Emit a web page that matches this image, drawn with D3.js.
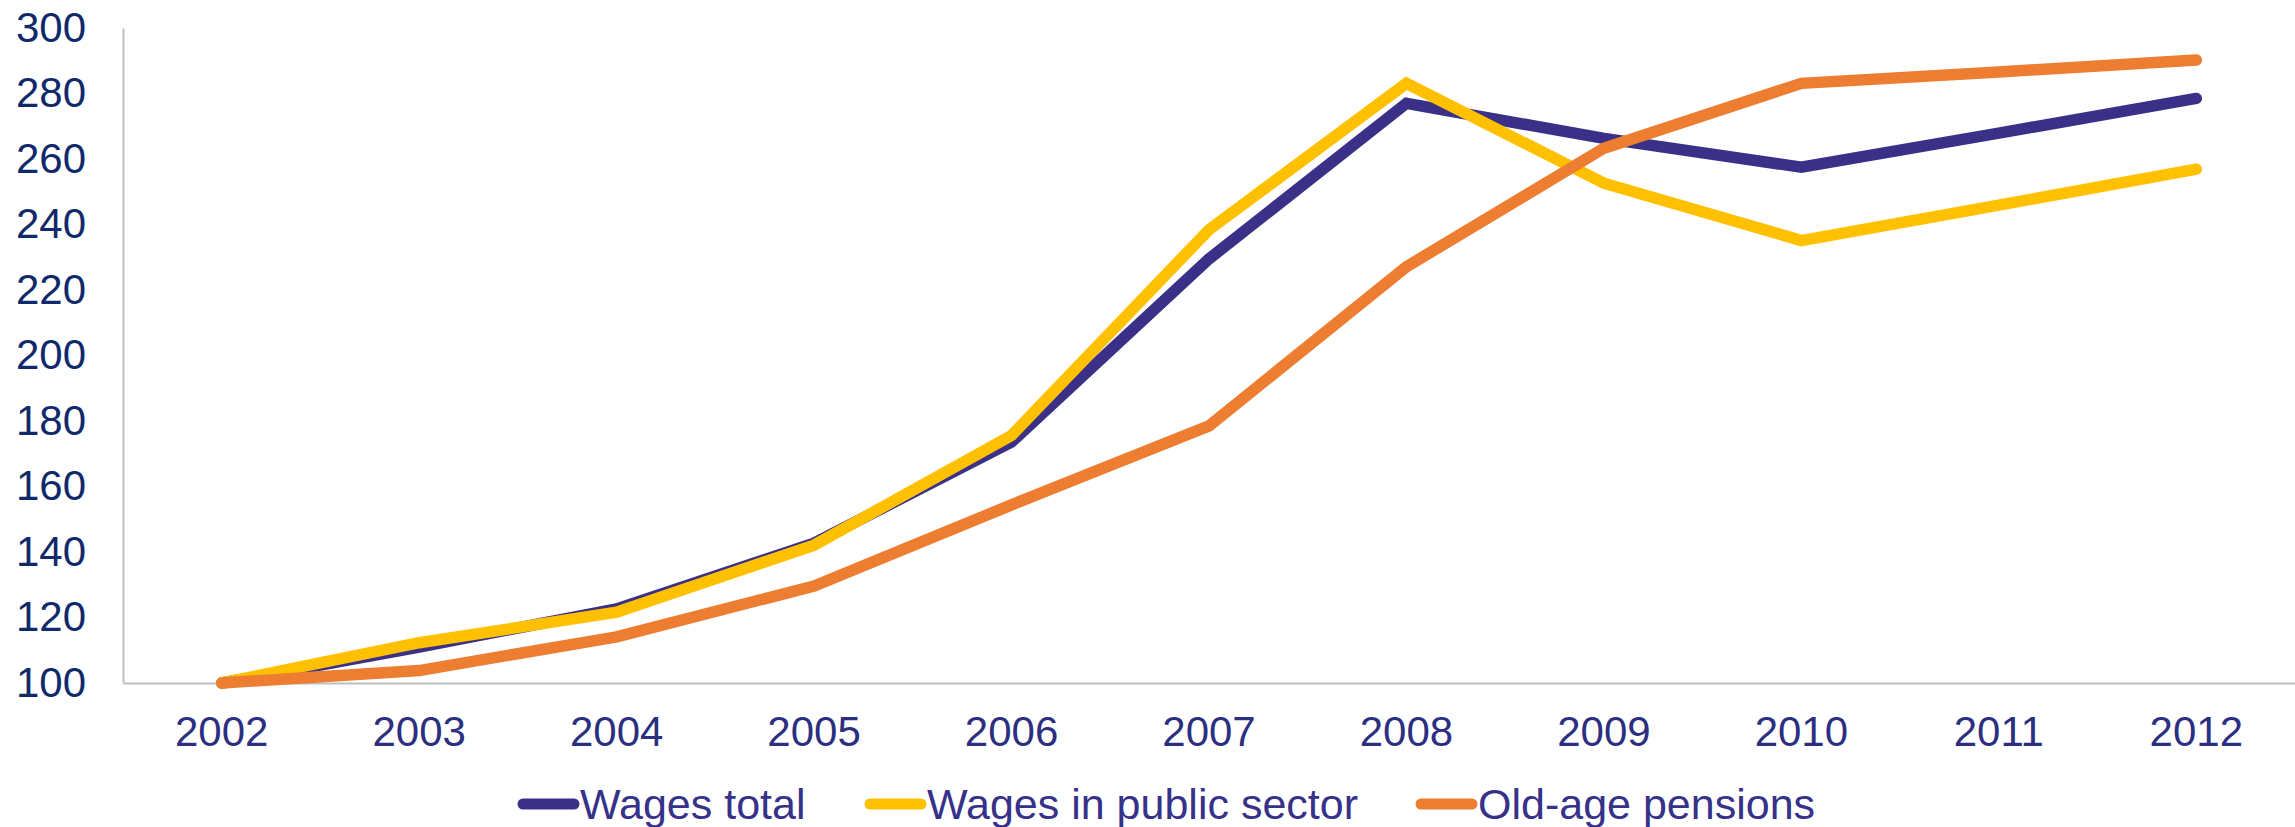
<!DOCTYPE html>
<html lang="en">
  <head>
    <meta charset="UTF-8" />
    <title>Wages and pensions</title>
    <script src="https://cdnjs.cloudflare.com/ajax/libs/d3/7.8.5/d3.min.js"></script>
    <style>
      html,
      body {
        margin: 0;
        background: #fff;
        font-family: "Liberation Sans", Arial, sans-serif;
      }
    </style>
  </head>
  <body>
    <div id="chart"></div>
    <script>
      const years = ["2002", "2003", "2004", "2005", "2006", "2007", "2008", "2009", "2010", "2011", "2012"];
      const wagesTotal = [100, 111, 122.6, 142.7, 173.6, 229.5, 277, 266.3, 257.5, 267.9, 278.5];
      const wagesPublic = [100, 112.3, 121.6, 142.1, 175.6, 238.4, 283.1, 252.6, 235.1, 245.9, 256.9];
      const pensions = [100, 103.8, 114.1, 129.6, 154.4, 178.5, 227.1, 263.3, 283.1, 286.6, 290.2];
      const yTicks = [100, 120, 140, 160, 180, 200, 220, 240, 260, 280, 300];

      const series = [
        { name: "Wages total", values: wagesTotal, color: "#3a3087" },
        { name: "Wages in public sector", values: wagesPublic, color: "#ffc000" },
        { name: "Old-age pensions", values: pensions, color: "#ed7d31" },
      ];

      const W = 2295,
        H = 827,
        margin = { top: 28, right: 0, bottom: 144, left: 123 };

      const x = d3
        .scaleBand()
        .domain(years)
        .range([margin.left, W - margin.right]);
      const y = d3
        .scaleLinear()
        .domain([100, 300])
        .range([H - margin.bottom, margin.top]);

      const svg = d3
        .select("#chart")
        .append("svg")
        .attr("width", W)
        .attr("height", H);

      // y axis
      const yAxis = svg
        .append("g")
        .attr("transform", `translate(${margin.left},0)`)
        .call(d3.axisLeft(y).tickValues(yTicks).tickSize(0).tickPadding(37));
      yAxis.select(".domain").attr("stroke", "#bfbfbf").attr("stroke-width", 2);
      yAxis
        .selectAll("text")
        .attr("fill", "#10296b")
        .attr("font-size", "42px")
        .attr("font-family", "'Liberation Sans', Arial, sans-serif");

      // x axis
      const xAxis = svg
        .append("g")
        .attr("transform", `translate(0,${y(100)})`)
        .call(d3.axisBottom(x).tickSize(0).tickPadding(33));
      xAxis.select(".domain").attr("stroke", "#bfbfbf").attr("stroke-width", 2);
      xAxis
        .selectAll("text")
        .attr("fill", "#2c2f80")
        .attr("font-size", "42px")
        .attr("font-family", "'Liberation Sans', Arial, sans-serif");

      const line = d3
        .line()
        .x((d, i) => x(years[i]) + x.bandwidth() / 2)
        .y((d) => y(d));

      series.forEach((s) => {
        svg
          .append("path")
          .datum(s.values)
          .attr("fill", "none")
          .attr("stroke", s.color)
          .attr("stroke-width", 11.5)
          .attr("stroke-linecap", "round")
          .attr("stroke-linejoin", "miter")
          .attr("d", line);
      });

      // legend
      const legendX = [517, 864, 1415];
      const legend = svg.append("g").attr("transform", "translate(0,804)");
      series.forEach((s, i) => {
        const g = legend.append("g").attr("transform", `translate(${legendX[i]},0)`);
        g.append("line")
          .attr("x1", 6)
          .attr("x2", 57)
          .attr("stroke", s.color)
          .attr("stroke-width", 11)
          .attr("stroke-linecap", "round");
        g.append("text")
          .attr("x", 63)
          .attr("dy", "0.35em")
          .attr("fill", "#363189")
          .attr("font-size", "43px")
          .text(s.name);
      });
    </script>
  </body>
</html>
